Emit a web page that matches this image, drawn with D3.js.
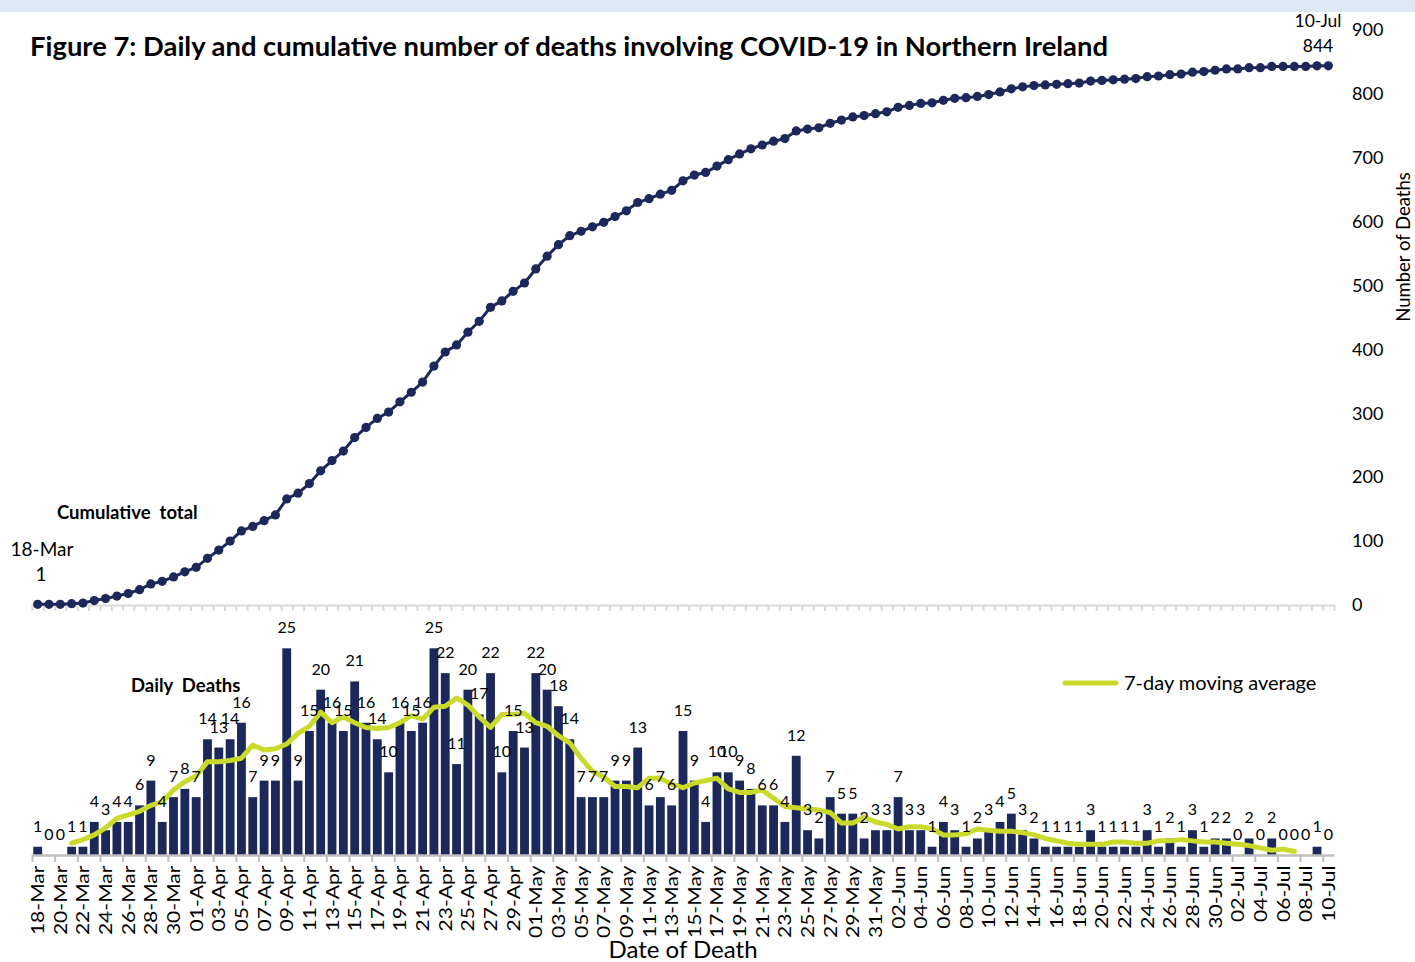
<!DOCTYPE html>
<html>
<head>
<meta charset="utf-8">
<script src="https://cdn.jsdelivr.net/npm/d3@7"></script>
<style>
  body { margin: 0; background: #fff; }
  svg { display: block; }
  text { font-family: Lato, "Open Sans", sans-serif; fill: #000; }
</style>
</head>
<body>
<div id="chart"></div>
<script>
// Figure 7: daily + cumulative COVID-19 deaths, Northern Ireland (18-Mar to 10-Jul)

const dates = [
  "18-Mar","19-Mar","20-Mar","21-Mar","22-Mar","23-Mar","24-Mar","25-Mar","26-Mar","27-Mar","28-Mar","29-Mar","30-Mar","31-Mar",
  "01-Apr","02-Apr","03-Apr","04-Apr","05-Apr","06-Apr","07-Apr","08-Apr","09-Apr","10-Apr","11-Apr","12-Apr","13-Apr","14-Apr","15-Apr",
  "16-Apr","17-Apr","18-Apr","19-Apr","20-Apr","21-Apr","22-Apr","23-Apr","24-Apr","25-Apr","26-Apr","27-Apr","28-Apr","29-Apr","30-Apr",
  "01-May","02-May","03-May","04-May","05-May","06-May","07-May","08-May","09-May","10-May","11-May","12-May","13-May","14-May","15-May",
  "16-May","17-May","18-May","19-May","20-May","21-May","22-May","23-May","24-May","25-May","26-May","27-May","28-May","29-May","30-May","31-May",
  "01-Jun","02-Jun","03-Jun","04-Jun","05-Jun","06-Jun","07-Jun","08-Jun","09-Jun","10-Jun","11-Jun","12-Jun","13-Jun","14-Jun","15-Jun",
  "16-Jun","17-Jun","18-Jun","19-Jun","20-Jun","21-Jun","22-Jun","23-Jun","24-Jun","25-Jun","26-Jun","27-Jun","28-Jun","29-Jun","30-Jun",
  "01-Jul","02-Jul","03-Jul","04-Jul","05-Jul","06-Jul","07-Jul","08-Jul","09-Jul","10-Jul"
];

const dailyDeaths = [
  1,0,0,1,1,4,3,4,4,6,9,4,7,8,
  7,14,13,14,16,7,9,9,25,9,15,20,16,15,21,16,14,10,16,15,16,25,22,11,20,17,22,10,15,13,
  22,20,18,14,7,7,7,9,9,13,6,7,6,15,9,4,10,10,9,8,6,6,4,12,3,2,7,5,5,2,3,
  3,7,3,3,1,4,3,1,2,3,4,5,3,2,1,1,1,1,3,1,1,1,1,3,1,2,1,3,1,2,
  2,0,2,0,2,0,0,0,1,0
];

const cumulativeDeaths = [
  1,1,1,2,3,7,10,14,18,24,33,37,44,52,
  59,73,86,100,116,123,132,141,166,175,190,210,226,241,262,278,292,302,318,333,349,374,396,407,427,444,466,476,491,504,
  526,546,564,578,585,592,599,608,617,630,636,643,649,664,673,677,687,697,706,714,720,726,730,742,745,747,754,759,764,766,769,
  772,779,782,785,786,790,793,794,796,799,803,808,811,813,814,815,816,817,820,821,822,823,824,827,828,830,831,834,835,837,
  839,839,841,841,843,843,843,843,844,844
];

const movingAverage = [
  null,null,null,1.43,1.86,2.43,3.29,4.43,4.86,5.29,6.00,6.43,7.86,8.86,
  9.57,11.29,11.29,11.43,11.71,13.29,12.71,12.86,13.43,14.71,15.57,17.29,16.00,16.71,16.00,15.43,15.29,15.43,16.00,16.86,16.43,17.86,18.00,19.00,18.14,16.71,15.43,17.00,17.00,17.14,
  16.00,15.57,14.43,13.57,11.71,10.14,9.43,8.29,8.29,8.14,9.29,9.29,8.57,8.14,8.71,9.00,9.29,8.00,7.57,7.57,7.86,6.86,5.86,5.71,5.57,5.43,5.14,3.86,3.86,4.57,4.00,
  3.71,3.14,3.43,3.43,3.14,2.43,2.43,2.57,3.14,3.00,2.86,2.86,2.71,2.43,2.00,1.71,1.43,1.29,1.29,1.29,1.57,1.57,1.43,1.43,1.71,1.71,1.86,1.71,1.57,1.57,
  1.43,1.29,1.14,0.86,0.57,0.71,0.43,null,null,null
];

const cumulativeTicks = [0, 100, 200, 300, 400, 500, 600, 700, 800, 900];

const width = 1415, height = 962;
const navy = "#1c2859", green = "#c9da2a";
const left = 32, right = 1334;
const cumBase = 605, dayBase = 855;

const svg = d3.select("#chart").append("svg")
  .attr("width", width)
  .attr("height", height);

// light blue strip at the very top
svg.append("rect")
  .attr("x", 0).attr("y", 0)
  .attr("width", width).attr("height", 12)
  .attr("fill", "#dee9f5");

// scales
const x = d3.scaleBand()
  .domain(dates)
  .range([left, right])
  .paddingInner(0.22)
  .paddingOuter(0.11);
const xEdge = d3.scaleLinear().domain([0, dates.length]).range([left, right]);
const xc = (d) => x(d) + x.bandwidth() / 2;

const yCum = d3.scaleLinear().domain([0, 900]).range([cumBase, 30]);
const yDay = d3.scaleLinear().domain([0, 30]).range([dayBase, 607]);

// title
svg.append("text")
  .attr("x", 30)
  .attr("y", 56)
  .attr("textLength", 1078)
  .attr("lengthAdjust", "spacingAndGlyphs")
  .style("font-size", "26px")
  .style("font-weight", "bold")
  .text("Figure 7: Daily and cumulative number of deaths involving COVID-19 in Northern Ireland");

// ---- upper panel: cumulative ----
const topAxis = svg.append("g")
  .attr("transform", `translate(0,${cumBase})`)
  .call(d3.axisBottom(xEdge).tickValues(d3.range(0, dates.length + 1)).tickSize(6).tickSizeOuter(0).tickFormat(""));
topAxis.select(".domain").attr("stroke", "#d9d9d9").attr("stroke-width", 2);
topAxis.selectAll(".tick line").attr("stroke", "#d9d9d9").attr("stroke-width", 2);

const rightAxis = svg.append("g")
  .attr("transform", "translate(1346,0)")
  .call(d3.axisRight(yCum).tickValues(cumulativeTicks).tickSize(0).tickPadding(6));
rightAxis.select(".domain").remove();
rightAxis.selectAll("text")
  .style("font-family", "Lato, sans-serif")
  .style("font-size", "18px")
  .attr("fill", "#000");

svg.append("text")
  .attr("transform", "translate(1410,247) rotate(-90)")
  .attr("text-anchor", "middle")
  .style("font-size", "18.5px")
  .text("Number of Deaths");

const cumLine = d3.line()
  .x((d, i) => xc(dates[i]))
  .y((d) => yCum(d));

svg.append("path")
  .datum(cumulativeDeaths)
  .attr("fill", "none")
  .attr("stroke", navy)
  .attr("stroke-width", 3)
  .attr("d", cumLine);

svg.selectAll(".cum-dot")
  .data(cumulativeDeaths)
  .enter()
  .append("circle")
  .attr("class", "cum-dot")
  .attr("cx", (d, i) => xc(dates[i]))
  .attr("cy", (d) => yCum(d))
  .attr("r", 4.6)
  .attr("fill", navy);

svg.append("text")
  .attr("x", 57).attr("y", 519)
  .style("font-size", "18.5px")
  .style("font-weight", "bold")
  .style("white-space", "pre")
  .text("Cumulative  total");

svg.append("text").attr("x", 42).attr("y", 556).attr("text-anchor", "middle")
  .style("font-size", "19px").text(dates[0]);
svg.append("text").attr("x", 41).attr("y", 581).attr("text-anchor", "middle")
  .style("font-size", "19px").text(cumulativeDeaths[0]);

svg.append("text").attr("x", 1318).attr("y", 27).attr("text-anchor", "middle")
  .style("font-size", "17.5px").text(dates[dates.length - 1]);
svg.append("text").attr("x", 1318).attr("y", 52).attr("text-anchor", "middle")
  .style("font-size", "17.5px").text(cumulativeDeaths[cumulativeDeaths.length - 1]);

// ---- lower panel: daily ----
svg.selectAll(".bar")
  .data(dailyDeaths)
  .enter()
  .append("rect")
  .attr("class", "bar")
  .attr("x", (d, i) => x(dates[i]))
  .attr("y", (d) => yDay(d))
  .attr("width", x.bandwidth())
  .attr("height", (d) => dayBase - yDay(d))
  .attr("fill", navy);

const bottomTicks = svg.append("g")
  .attr("transform", `translate(0,${dayBase})`)
  .call(d3.axisBottom(xEdge).tickValues(d3.range(0, dates.length, 2)).tickSize(7).tickSizeOuter(0).tickFormat(""));
bottomTicks.select(".domain").attr("stroke", "#bfbfbf").attr("stroke-width", 2.5);
bottomTicks.selectAll(".tick line").attr("stroke", "#bfbfbf").attr("stroke-width", 2);

const bottomLabels = svg.append("g")
  .attr("transform", `translate(0,${dayBase})`)
  .call(d3.axisBottom(x).tickValues(dates.filter((d, i) => i % 2 === 0)).tickSize(0));
bottomLabels.select(".domain").remove();
bottomLabels.selectAll("text")
  .attr("transform", "rotate(-90) scale(1.17,1)")
  .attr("x", -9)
  .attr("y", 0)
  .attr("dy", "0.36em")
  .style("text-anchor", "end")
  .style("font-family", "Lato, sans-serif")
  .style("font-size", "18px")
  .attr("fill", "#000");

const maLine = d3.line()
  .defined((d) => d !== null)
  .x((d, i) => xc(dates[i]))
  .y((d) => yDay(d));

svg.append("path")
  .datum(movingAverage)
  .attr("fill", "none")
  .attr("stroke", green)
  .attr("stroke-width", 5)
  .attr("stroke-linejoin", "round")
  .attr("stroke-linecap", "round")
  .attr("d", maLine);

svg.selectAll(".bar-label")
  .data(dailyDeaths)
  .enter()
  .append("text")
  .attr("class", "bar-label")
  .attr("x", (d, i) => xc(dates[i]))
  .attr("y", (d) => yDay(d) - 15)
  .attr("text-anchor", "middle")
  .style("font-size", "16px")
  .text((d) => d);

svg.append("text")
  .attr("x", 131).attr("y", 692)
  .style("font-size", "18.5px")
  .style("font-weight", "bold")
  .style("white-space", "pre")
  .text("Daily  Deaths");

// legend
svg.append("line")
  .attr("x1", 1065).attr("x2", 1116)
  .attr("y1", 683).attr("y2", 683)
  .attr("stroke", green)
  .attr("stroke-width", 5)
  .attr("stroke-linecap", "round");
svg.append("text")
  .attr("x", 1124).attr("y", 690)
  .style("font-size", "20px")
  .text("7-day moving average");

svg.append("text")
  .attr("x", 683).attr("y", 958)
  .attr("text-anchor", "middle")
  .style("font-size", "24px")
  .text("Date of Death");
</script>
</body>
</html>
